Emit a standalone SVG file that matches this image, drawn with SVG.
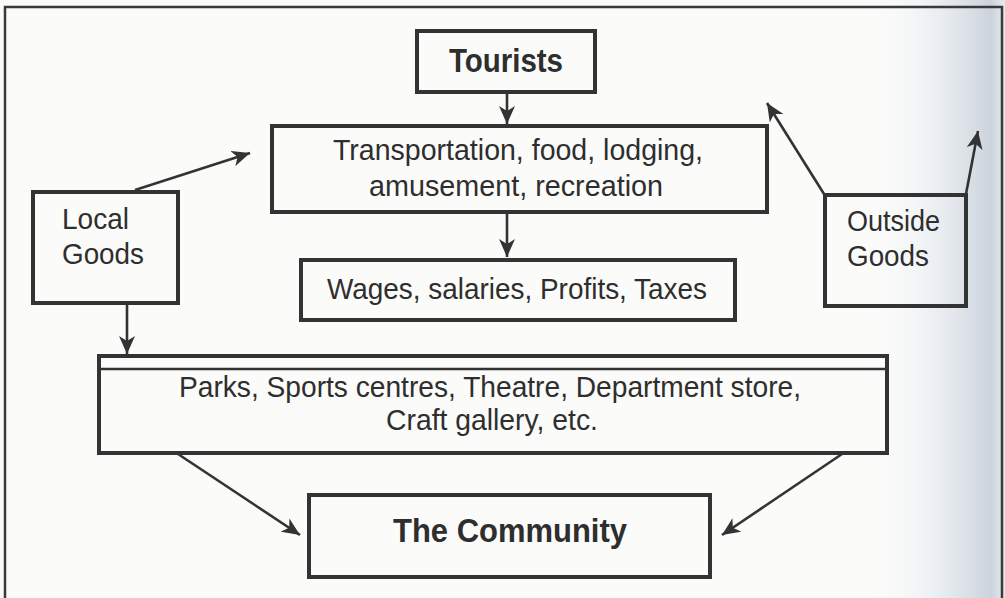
<svg xmlns="http://www.w3.org/2000/svg" width="1005" height="598" viewBox="0 0 1005 598">
  <style>
    .box { fill: none; stroke: #333; stroke-width: 4; }
    .frame { fill: none; stroke: #3a3a3a; stroke-width: 2.5; }
    .link { fill: none; stroke: #333; stroke-width: 2.6; marker-end: url(#head); }
    text { fill: #2e2e2e; font-family: "Liberation Sans", Arial, sans-serif; text-anchor: middle; }
    .title { font-size: 33px; font-weight: bold; }
    .body { font-size: 30px; }
    .narrow { font-family: "Liberation Sans Narrow", "Liberation Sans", Arial, sans-serif; font-size: 30px; }
    .goods { font-size: 29px; text-anchor: start; }
  </style>
  <defs>
    <marker id="head" markerUnits="userSpaceOnUse" markerWidth="20" markerHeight="16" refX="18" refY="8" orient="auto">
      <path d="M0,0 L18,8 L0,16 L5,8 Z" fill="#333"/>
    </marker>
    <linearGradient id="edge" x1="0" y1="0" x2="1" y2="0">
      <stop offset="0" stop-color="#ffffff" stop-opacity="0"/>
      <stop offset="0.5" stop-color="#e3e8ee" stop-opacity="0.6"/>
      <stop offset="0.9" stop-color="#cbd3dc"/>
      <stop offset="1" stop-color="#e6eaee"/>
    </linearGradient>
  </defs>

  <!-- page -->
  <rect x="0" y="0" width="1005" height="598" fill="#fbfbfa"/>
  <rect x="860" y="0" width="145" height="598" fill="url(#edge)"/>

  <!-- outer frame -->
  <path class="frame" d="M5,598 V7 H1002 V598"/>

  <g id="connectors">
    <line class="link" x1="507" y1="93" x2="507" y2="124"/>
    <line class="link" x1="507" y1="212" x2="507" y2="257"/>
    <line class="link" x1="135" y1="190" x2="250" y2="153"/>
    <line class="link" x1="127" y1="303" x2="127" y2="354"/>
    <line class="link" x1="824" y1="194" x2="767" y2="103"/>
    <line class="link" x1="966" y1="194" x2="978" y2="131"/>
    <line class="link" x1="178" y1="454" x2="300" y2="535"/>
    <line class="link" x1="842" y1="454" x2="722" y2="535"/>
  </g>

  <g id="tourists">
    <rect class="box" x="417" y="31" width="178" height="61"/>
    <text class="title" x="506" y="72" textLength="114" lengthAdjust="spacingAndGlyphs">Tourists</text>
  </g>

  <g id="services">
    <rect class="box" x="272" y="126" width="495" height="86"/>
    <text class="body" x="518" y="160" textLength="370" lengthAdjust="spacingAndGlyphs">Transportation, food, lodging,</text>
    <text class="body" x="516" y="196" textLength="294" lengthAdjust="spacingAndGlyphs">amusement, recreation</text>
  </g>

  <g id="income">
    <rect class="box" x="301" y="260" width="434" height="60"/>
    <text class="body" x="517" y="299" textLength="380" lengthAdjust="spacingAndGlyphs">Wages, salaries, Profits, Taxes</text>
  </g>

  <g id="local-goods">
    <rect class="box" x="33" y="192" width="145" height="111"/>
    <text class="goods" x="62" y="229" textLength="67" lengthAdjust="spacingAndGlyphs">Local</text>
    <text class="goods" x="62" y="264" textLength="82" lengthAdjust="spacingAndGlyphs">Goods</text>
  </g>

  <g id="outside-goods">
    <rect class="box" x="825" y="195" width="141" height="111"/>
    <text class="goods" x="847" y="231" textLength="93" lengthAdjust="spacingAndGlyphs">Outside</text>
    <text class="goods" x="847" y="266" textLength="82" lengthAdjust="spacingAndGlyphs">Goods</text>
  </g>

  <g id="facilities">
    <rect class="box" x="99" y="356" width="788" height="97"/>
    <line x1="99" y1="369" x2="887" y2="369" stroke="#333" stroke-width="2.5"/>
    <text class="narrow" x="490" y="397" textLength="622" lengthAdjust="spacingAndGlyphs">Parks, Sports centres, Theatre, Department store,</text>
    <text class="narrow" x="492" y="430" textLength="212" lengthAdjust="spacingAndGlyphs">Craft gallery, etc.</text>
  </g>

  <g id="community">
    <rect class="box" x="309" y="495" width="401" height="82"/>
    <text class="title" x="510" y="542" textLength="234" lengthAdjust="spacingAndGlyphs">The Community</text>
  </g>
</svg>
